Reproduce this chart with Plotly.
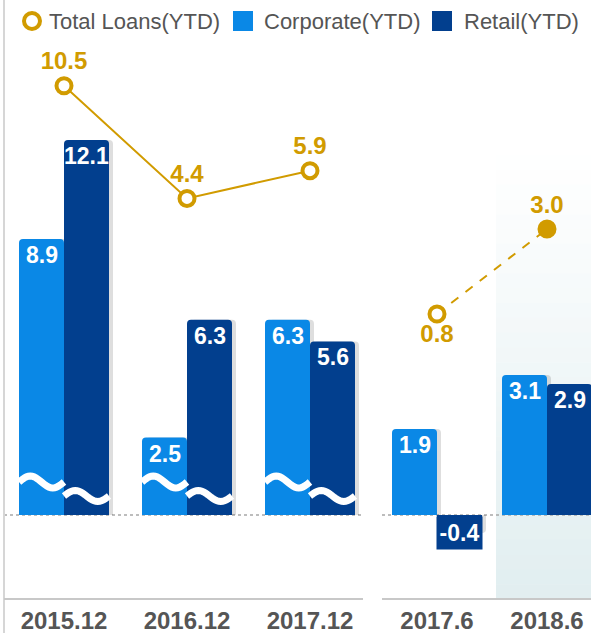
import math
import plotly.graph_objects as go

W, H = 591, 633

# ---------------- data ----------------
categories_left = ["2015.12", "2016.12", "2017.12"]
categories_right = ["2017.6", "2018.6"]
total_left = [10.5, 4.4, 5.9]
total_right = [0.8, 3.0]
corporate_left = [8.9, 2.5, 6.3]
corporate_right = [1.9, 3.1]
retail_left = [12.1, 6.3, 5.6]
retail_right = [-0.4, 2.9]

# ---------------- styles ----------------
GOLD = "#D19B00"
CORP = "#0A88E6"
RETAIL = "#023F8E"
TXT = "#555555"
FONT = "Liberation Sans, Arial, sans-serif"

# geometry (pixels)
BASE = 515          # zero line of bars
AXIS_Y = 599        # category axis line
L_START, L_STEP = 2.5, 123
R_START, R_STEP = 382, 110
BAR_PX = 45


def px(x):
    return x / W


def py(y):
    return 1 - y / H


def yrange(zero_px, scale):
    return [(zero_px - H) / scale, zero_px / scale]


fig = go.Figure()
annotations = []
bar_font = dict(family=FONT, size=23, color="white", weight="bold")


def add_bars(x, y, xa, ya, color, step, side):
    w = BAR_PX / step
    off = -w if side < 0 else 0
    # soft shadow
    fig.add_trace(go.Bar(
        x=x, y=y, xaxis=xa, yaxis=ya, width=w, offset=off + 4 / step,
        marker=dict(color="rgba(0,0,0,0.13)", cornerradius=4, line_width=0),
        hoverinfo="skip", showlegend=False))
    fig.add_trace(go.Bar(
        x=x, y=y, xaxis=xa, yaxis=ya, width=w, offset=off,
        marker=dict(color=color, cornerradius=4, line_width=0),
        showlegend=False))
    # value labels at the bar tips
    for i, v in enumerate(y):
        xc = i + off + w / 2
        if v >= 0:
            annotations.append(dict(x=xc, y=v, xref=xa, yref=ya, text=f"{v:.1f}",
                                    showarrow=False, yanchor="top", yshift=-1,
                                    font=bar_font))
        else:
            annotations.append(dict(x=xc, y=0, xref=xa, yref=ya, text=f"{v:.1f}",
                                    showarrow=False, yanchor="top", yshift=-1,
                                    width=BAR_PX, height=32, bgcolor=color, borderpad=0,
                                    font=bar_font))


add_bars(categories_left, corporate_left, "x", "y", CORP, L_STEP, -1)
add_bars(categories_left, retail_left, "x", "y", RETAIL, L_STEP, 1)
add_bars(categories_right, corporate_right, "x2", "y2", CORP, R_STEP, -1)
add_bars(categories_right, retail_right, "x2", "y2", RETAIL, R_STEP, 1)

lbl_font = dict(family=FONT, size=24, color=GOLD, weight="bold")
fig.add_trace(go.Scatter(
    x=categories_left, y=total_left, xaxis="x", yaxis="y3",
    mode="lines+markers+text", cliponaxis=False,
    line=dict(color=GOLD, width=2),
    marker=dict(symbol="circle", size=15, color="white", line=dict(color=GOLD, width=4)),
    text=[f"{v:.1f}" for v in total_left], textposition="top center",
    textfont=lbl_font, showlegend=False))
fig.add_trace(go.Scatter(
    x=categories_right, y=total_right, xaxis="x2", yaxis="y4",
    mode="lines+markers+text", cliponaxis=False,
    line=dict(color=GOLD, width=2, dash="dash"),
    marker=dict(symbol="circle", size=15, color=["white", GOLD], line=dict(color=GOLD, width=4)),
    text=[f"{v:.1f}" for v in total_right], textposition=["bottom center", "top center"],
    textfont=lbl_font, showlegend=False))

shapes = []
# gradient highlight behind latest period
top, bot = 155, AXIS_Y
n = 30
c0, c1 = (255, 255, 255), (225, 238, 240)
for i in range(n):
    t = (i + 0.5) / n
    col = tuple(round(c0[k] + (c1[k] - c0[k]) * t) for k in range(3))
    y0 = top + (bot - top) * i / n
    y1 = top + (bot - top) * (i + 1) / n + 0.5
    shapes.append(dict(type="rect", xref="paper", yref="paper", layer="below",
                       x0=px(496), x1=px(W), y0=py(y1), y1=py(y0),
                       line_width=0, fillcolor="rgb(%d,%d,%d)" % col))
# left border line
shapes.append(dict(type="line", xref="paper", yref="paper", x0=px(4), x1=px(4), y0=0, y1=1,
                   line=dict(color="#D6D6D6", width=2)))
# category axis lines & dotted zero lines
for a, b in [(4, 363), (382, W)]:
    shapes.append(dict(type="line", xref="paper", yref="paper", x0=px(a), x1=px(b),
                       y0=py(AXIS_Y), y1=py(AXIS_Y), line=dict(color="#C8C8C8", width=2)))
    shapes.append(dict(type="line", xref="paper", yref="paper", layer="below", x0=px(a), x1=px(b),
                       y0=py(BASE), y1=py(BASE), line=dict(color="#A8A8A8", width=1.5, dash="dot")))


# axis-break waves on the left bars
def wave(x0, x1, yc, amp):
    pts = []
    for k in range(25):
        t = k / 24
        xx = x0 + (x1 - x0) * t
        yy = yc - amp * math.sin(2 * math.pi * t)
        pts.append("%s%.5f,%.5f" % ("M" if k == 0 else "L", px(xx), py(yy)))
    return " ".join(pts)


for i in range(len(categories_left)):
    cx = L_START + (i + 0.5) * L_STEP
    shapes.append(dict(type="path", xref="paper", yref="paper", path=wave(cx - BAR_PX, cx, 482, 6),
                       line=dict(color="white", width=7)))
    shapes.append(dict(type="path", xref="paper", yref="paper", path=wave(cx, cx + BAR_PX, 496, 5.5),
                       line=dict(color="white", width=7)))

# legend symbols
shapes.append(dict(type="circle", xref="paper", yref="paper", x0=px(24), x1=px(40), y0=py(29), y1=py(13),
                   line=dict(color=GOLD, width=4), fillcolor="white"))
shapes.append(dict(type="rect", xref="paper", yref="paper", x0=px(233), x1=px(253), y0=py(31), y1=py(11),
                   line_width=0, fillcolor=CORP))
shapes.append(dict(type="rect", xref="paper", yref="paper", x0=px(432), x1=px(452), y0=py(31), y1=py(11),
                   line_width=0, fillcolor=RETAIL))

leg_font = dict(family=FONT, size=22, color=TXT)
for label, xl in [("Total Loans(YTD)", 47), ("Corporate(YTD)", 262), ("Retail(YTD)", 462)]:
    annotations.append(dict(text=label, xref="paper", yref="paper", x=px(xl), y=py(21),
                            xanchor="left", yanchor="middle", showarrow=False, font=leg_font))

tick_font = dict(family=FONT, size=24, color=TXT, weight="bold")
common_x = dict(type="category", anchor="free", position=py(AXIS_Y), showline=False,
                showgrid=False, zeroline=False, ticks="", tickfont=tick_font, ticklabelstandoff=5,
                fixedrange=True)
fig.update_layout(
    width=W, height=H, autosize=False,
    margin=dict(l=0, r=0, t=0, b=0, pad=0),
    paper_bgcolor="white", plot_bgcolor="rgba(0,0,0,0)",
    barmode="overlay", showlegend=False,
    xaxis=dict(common_x, domain=[px(L_START), px(L_START + 3 * L_STEP)], range=[-0.5, 2.5]),
    xaxis2=dict(common_x, domain=[px(R_START), 1], range=[-0.5, (W - R_START) / R_STEP - 0.5]),
    yaxis=dict(domain=[0, 1], range=yrange(BASE, 31.0), visible=False, anchor="x"),
    yaxis2=dict(domain=[0, 1], range=yrange(BASE, 45.2), visible=False, anchor="x2"),
    yaxis3=dict(overlaying="y", range=yrange(279.7, 18.47), visible=False, anchor="x"),
    yaxis4=dict(overlaying="y2", range=yrange(344.9, 38.64), visible=False, anchor="x2"),
    shapes=shapes, annotations=annotations,
)

fig.write_html("out.html", config={"displayModeBar": False},
               post_script="document.body.style.margin='0';document.body.style.overflow='hidden';")
